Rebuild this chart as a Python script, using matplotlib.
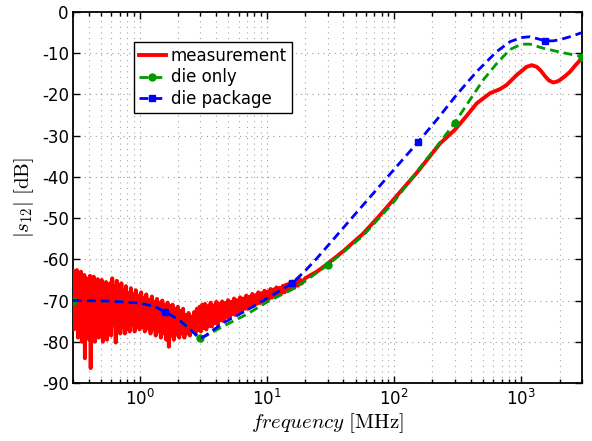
import numpy as np
import matplotlib
matplotlib.use("Agg")
import matplotlib.pyplot as plt
from matplotlib.ticker import LogLocator, NullFormatter

plt.rcParams['font.family'] = ['DejaVu Sans']
plt.rcParams['axes.unicode_minus'] = False

# ---------------- data ----------------
# measurement, noisy low-frequency part: upper / lower excursions
noise_hi_f = [0.300, 0.310, 0.322, 0.334, 0.346, 0.358, 0.368, 0.380, 0.395, 0.408,
              0.420, 0.436, 0.452, 0.470, 0.488, 0.505, 0.525, 0.545, 0.565, 0.585,
              0.610, 0.635, 0.662, 0.690, 0.720, 0.750, 0.782, 0.818, 0.855, 0.895,
              0.935, 0.980, 1.03, 1.08, 1.13, 1.19, 1.25, 1.31, 1.37, 1.44,
              1.51, 1.58, 1.66, 1.74, 1.82, 1.91, 2.00, 2.10, 2.20, 2.31,
              2.43, 2.55, 2.68, 2.82, 2.96, 3.11, 3.27, 3.44, 3.62, 3.81,
              4.01, 4.23, 4.46, 4.70, 4.96, 5.24, 5.53, 5.84, 6.17, 6.52,
              6.89, 7.28, 7.69, 8.12, 8.58, 9.07, 9.58, 10.1, 10.7, 11.3,
              11.9, 12.6, 13.4, 14.2, 15.0, 16.0, 17.0, 18.2]
noise_hi_db = [-62.8, -63.5, -62.6, -64.5, -63.0, -65.5, -63.8, -64.5, -66.0, -64.0,
               -65.5, -64.2, -66.5, -64.8, -67.0, -65.0, -67.5, -65.5, -67.8, -65.8,
               -64.6, -66.5, -65.2, -67.5, -65.8, -67.5, -66.5, -68.2, -67.0, -68.5,
               -67.5, -68.8, -68.0, -69.3, -68.5, -69.8, -69.0, -70.3, -69.6, -70.5,
               -70.0, -71.0, -70.5, -71.3, -71.0, -72.0, -71.5, -72.5, -72.0, -73.5,
               -73.0, -73.9, -72.8, -72.0, -71.5, -71.0, -70.8, -71.3, -70.5, -71.2,
               -70.3, -70.8, -70.2, -70.6, -69.9, -70.3, -69.5, -69.9, -69.2, -69.5,
               -68.8, -69.1, -68.4, -68.7, -68.0, -68.2, -67.6, -67.8, -67.2, -67.3,
               -66.8, -66.9, -66.4, -66.1, -65.8, -65.4, -65.2, -64.8]
noise_lo_f = [0.305, 0.316, 0.328, 0.340, 0.352, 0.364, 0.372, 0.388, 0.403, 0.413,
              0.428, 0.445, 0.460, 0.478, 0.496, 0.515, 0.535, 0.555, 0.575, 0.597,
              0.622, 0.650, 0.675, 0.705, 0.735, 0.766, 0.800, 0.836, 0.875, 0.915,
              0.957, 1.00, 1.05, 1.10, 1.16, 1.22, 1.28, 1.34, 1.40, 1.47,
              1.54, 1.62, 1.70, 1.78, 1.86, 1.95, 2.05, 2.15, 2.25, 2.37,
              2.49, 2.61, 2.75, 2.89, 3.03, 3.19, 3.35, 3.53, 3.71, 3.91,
              4.12, 4.34, 4.58, 4.83, 5.10, 5.38, 5.68, 6.00, 6.34, 6.70,
              7.08, 7.48, 7.90, 8.35, 8.82, 9.32, 9.85, 10.4, 11.0, 11.6,
              12.3, 13.0, 13.8, 14.6, 15.5, 16.5, 17.6, 18.8]
noise_lo_db = [-77.0, -73.0, -79.0, -75.0, -80.0, -76.0, -84.0, -77.0, -79.5, -86.4,
               -78.0, -80.0, -76.5, -79.0, -77.0, -80.0, -77.5, -79.5, -76.5, -78.5,
               -76.0, -80.2, -77.0, -78.0, -76.5, -78.0, -76.8, -77.5, -76.0, -77.5,
               -76.3, -77.0, -76.5, -77.5, -76.8, -78.0, -77.0, -78.5, -77.5, -79.0,
               -78.0, -79.5, -81.2, -78.5, -79.5, -78.3, -79.0, -78.0, -79.0, -78.0,
               -78.5, -77.5, -78.0, -77.2, -77.5, -76.7, -77.0, -76.2, -76.3, -75.5,
               -75.8, -74.8, -75.0, -74.0, -74.2, -73.3, -73.5, -72.7, -72.8, -72.0,
               -72.0, -71.3, -71.3, -70.8, -70.6, -70.2, -70.0, -69.6, -69.3, -68.9,
               -68.5, -68.3, -68.0, -67.6, -67.3, -66.9, -66.4, -65.9]
# measurement, smooth high-frequency part
meas_f = [20, 25, 30, 40, 57, 75, 98.5, 150, 230, 300, 372, 445, 568, 681, 767,
          920, 1100, 1208, 1322, 1420, 1540, 1650, 1783, 1900, 2014, 2200, 2415,
          2650, 3000]
meas_db = [-64.6, -62.9, -61.1, -58.0, -53.8, -49.8, -45.6, -39.1, -31.9, -28.6,
           -25.2, -22.2, -19.7, -18.7, -17.7, -15.3, -13.3, -12.9, -13.3, -14.2,
           -15.6, -16.6, -17.1, -16.9, -16.5, -15.6, -14.5, -13.0, -11.2]

# die only
die_f = [0.3, 0.55, 1.0, 1.3, 1.6, 2.05, 2.5, 2.8, 3.0, 3.3, 4.5, 7.0, 10, 16, 20,
         30, 45, 57, 100, 170, 230, 300, 395, 502, 641, 815, 1004, 1170, 1490,
         2139, 3000]
die_db = [-70.0, -70.1, -70.6, -71.4, -72.7, -74.7, -77.0, -78.5, -79.2, -78.6,
          -76.3, -73.3, -70.4, -67.2, -65.3, -61.4, -56.9, -54.3, -46.0, -36.7,
          -31.6, -26.9, -21.3, -16.5, -12.5, -9.1, -7.8, -7.8, -8.8, -9.9, -10.8]
die_mark_f = [0.3, 3.0, 30, 300, 3000]

# die package
pkg_f = [0.3, 0.55, 1.0, 1.3, 1.58, 2.05, 2.5, 3.0, 3.3, 4.5, 7.0, 11.2, 15.8, 20,
         25, 31.4, 45, 68.7, 100, 154, 216, 310, 445, 641, 815, 1004, 1170, 1350,
         1540, 1783, 2014, 2415, 3000]
pkg_db = [-70.0, -70.1, -70.6, -71.4, -72.7, -74.7, -77.0, -79.2, -78.5, -75.5,
          -72.3, -68.6, -65.8, -62.8, -59.6, -56.1, -50.5, -44.0, -38.2, -31.6,
          -26.2, -20.1, -14.5, -9.6, -7.2, -6.2, -6.0, -6.5, -7.0, -7.0, -6.7,
          -6.0, -5.0]
pkg_mark_f = [1.58, 15.8, 154, 1540]

labels = ['measurement', 'die only', 'die package']
y_ticks = [0, -10, -20, -30, -40, -50, -60, -70, -80, -90]

# ---------------- build measurement trace ----------------
mf, md = [], []
for a, b, c, d in zip(noise_hi_f, noise_hi_db, noise_lo_f, noise_lo_db):
    mf += [a, c]
    md += [b, d]
mf += meas_f
md += meas_db

# ---------------- plot ----------------
fig = plt.figure(figsize=(5.92, 4.41), dpi=100)
ax = fig.add_axes([73/592, 58/441, 509/592, 371/441])

ax.plot(mf, md, color='#ff0000', lw=2.8, solid_joinstyle='round', label=labels[0], zorder=3)
ax.plot(die_f, die_db, color='#009900', lw=2.0, dashes=(3.2, 1.8), marker='o', ms=5,
        markevery=[die_f.index(v) for v in die_mark_f], label=labels[1], zorder=4)
ax.plot(pkg_f, pkg_db, color='#0000ff', lw=2.0, dashes=(3.2, 1.8), marker='s', ms=5,
        markevery=[pkg_f.index(v) for v in pkg_mark_f], label=labels[2], zorder=5)

ax.set_xscale('log')
ax.set_xlim(0.3, 3000)
ax.set_ylim(-90, 0)
ax.set_yticks(y_ticks)
ax.set_yticklabels([str(v) for v in y_ticks])
ax.xaxis.set_major_locator(LogLocator(base=10, numticks=10))
ax.xaxis.set_minor_locator(LogLocator(base=10, subs=np.arange(2, 10) * 1.0, numticks=100))
ax.xaxis.set_minor_formatter(NullFormatter())

ax.set_axisbelow(True)
ax.grid(True, which='major', axis='both', ls=(0, (1, 4)), color='0.6', lw=0.8)
ax.grid(True, which='minor', axis='x', ls=(0, (1, 4)), color='0.65', lw=0.8)

ax.tick_params(which='both', direction='in', top=True, right=True, labelsize=12, width=1)
ax.tick_params(which='major', length=5)
ax.tick_params(which='minor', length=3)
ax.tick_params(axis='y', pad=3)
ax.tick_params(axis='x', pad=4)
for s in ax.spines.values():
    s.set_linewidth(1.3)

ax.set_xlabel(r'$frequency\ [\mathrm{MHz}]$', fontsize=15, math_fontfamily='cm', labelpad=2)
ax.set_ylabel(r'$|s_{12}|\ [\mathrm{dB}]$', fontsize=15, math_fontfamily='cm', labelpad=4)

leg = ax.legend(loc='upper left', bbox_to_anchor=(0.12, 0.919), borderaxespad=0,
                fontsize=12, fancybox=False, edgecolor='black', framealpha=1,
                handlelength=1.6, handletextpad=0.3, labelspacing=0.2, borderpad=0.3,
                numpoints=1)
leg.get_frame().set_linewidth(1.0)

fig.savefig('out.png', dpi=100)
